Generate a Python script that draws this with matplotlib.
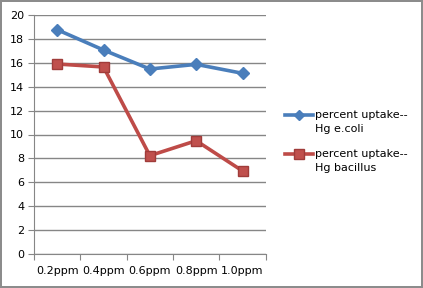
import matplotlib.pyplot as plt
from matplotlib.lines import Line2D

categories = ["0.2ppm", "0.4ppm", "0.6ppm", "0.8ppm", "1.0ppm"]
ecoli = [18.77, 17.07, 15.48, 15.87, 15.12]
bacillus = [15.9, 15.65, 8.23, 9.48, 6.95]
y_ticks = list(range(0, 21, 2))
labels = [("percent uptake--", "Hg e.coli"), ("percent uptake--", "Hg bacillus")]

W, H = 423, 288
fig = plt.figure(figsize=(W / 100, H / 100), dpi=100)
fig.patch.set_edgecolor("#8c8c8c")
fig.patch.set_linewidth(1.5)

ax = fig.add_axes([34 / W, 1 - 254 / H, (265.7 - 34) / W, (254 - 15) / H])
x = list(range(len(categories)))
blue = dict(color="#4a7ebb", lw=2.6, marker="D", ms=6, mfc="#4a7ebb", mec="#4a7ebb")
red = dict(color="#be4b48", lw=2.6, marker="s", ms=7.5, mfc="#c0504d", mec="#a03c3a")
ax.plot(x, ecoli, **blue)
ax.plot(x, bacillus, **red)

ax.set_xlim(-0.5, len(categories) - 0.5)
ax.set_ylim(0, 20)
ax.set_yticks(y_ticks)
ax.set_xticks([i - 0.5 for i in range(len(categories) + 1)])
ax.set_xticklabels([])
ax.set_xticks(x, minor=True)
ax.set_xticklabels(categories, minor=True)
ax.tick_params(axis="x", which="minor", length=0, pad=9, labelsize=8)
ax.tick_params(axis="x", which="major", length=4, direction="out", color="#868686")
ax.tick_params(axis="y", length=4, direction="out", color="#868686", labelsize=8, pad=3)
ax.yaxis.grid(True, color="#868686", lw=1)
ax.set_axisbelow(True)
for s in ["top", "right"]:
    ax.spines[s].set_visible(False)
for s in ["left", "bottom"]:
    ax.spines[s].set_color("#868686")

# legend drawn by hand: handle sits on the first text line
for (l1, l2), style, ypx in zip(labels, [blue, red], [115, 154]):
    y = 1 - ypx / H
    fig.add_artist(Line2D([285 / W, 313 / W], [y, y], transform=fig.transFigure,
                          color=style["color"], lw=2.6))
    fig.add_artist(Line2D([299 / W], [y], transform=fig.transFigure, ls="none",
                          marker=style["marker"], ms=style["ms"] - 1,
                          mfc=style["mfc"], mec=style["mec"]))
    fig.text(315 / W, y, l1, fontsize=8, va="center", ha="left")
    fig.text(315 / W, y - 14 / H, l2, fontsize=8, va="center", ha="left")

fig.savefig("out.png", dpi=100, edgecolor=fig.get_edgecolor())
